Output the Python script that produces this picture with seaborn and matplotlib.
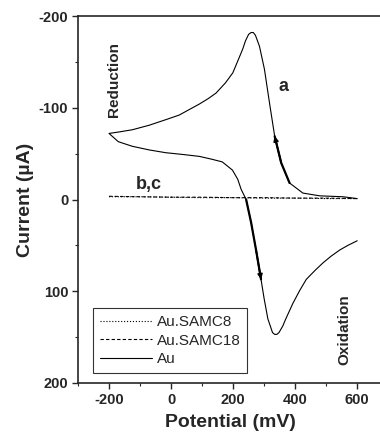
import numpy as np
import pandas as pd
import matplotlib
matplotlib.use("Agg")
import matplotlib.pyplot as plt
import seaborn as sns
from matplotlib.ticker import MultipleLocator

# Au electrode: reverse scan 600 -> -200 mV (upper branch), then forward -200 -> 600 mV
au_potential = [600, 554, 479, 425, 382, 355, 334, 317, 301, 285, 272, 265, 258, 250, 240, 231,
                220, 199, 175, 145, 120, 91, 26, -17, -70, -125, -170, -200,
                -170, -125, -70, -17, 40, 91, 130, 165, 198, 215, 226, 242, 258,
                274, 290, 300, 312, 327, 334, 341, 348, 360, 370, 393, 415, 436, 465, 490,
                515, 544, 570, 600]
au_current = [-1, -3, -4, -7, -18, -40, -69, -106, -142, -167, -179, -182, -182, -180, -173, -164,
              -155, -138, -127, -116, -110, -104, -92, -87, -81, -76, -73.5, -72,
              -63, -58, -54, -51, -49, -47, -44, -41, -32, -22, -11, 0, 25,
              55, 87, 108, 130, 145, 147, 147, 145, 138, 130, 113, 99, 87, 77, 69,
              62, 55, 50, 45]

# SAM modified electrodes (b, c): nearly flat
sam_potential = [-200, -100, 0, 100, 200, 300, 400, 500, 600]
samc8_current = [-3, -3, -2.5, -2, -2, -1.5, -1.5, -1, -1]
samc18_current = [-3.5, -3, -2.5, -2.5, -2, -2, -1.5, -1.5, -1]

sns.set_style("ticks")
plt.rcParams["font.family"] = ["Liberation Sans", "DejaVu Sans"]
plt.rcParams["axes.unicode_minus"] = False
plt.rcParams["xtick.direction"] = "out"
plt.rcParams["ytick.direction"] = "out"

fig = plt.figure(figsize=(3.8, 4.37), dpi=100)
ax = fig.add_axes([78 / 380, 54 / 437, 304 / 380, 367 / 437])

sns.lineplot(x=sam_potential, y=samc8_current, ax=ax, color="black", lw=0.8,
             linestyle=":", label="Au.SAMC8")
sns.lineplot(x=sam_potential, y=samc18_current, ax=ax, color="black", lw=0.8,
             label="Au.SAMC18")
ax.lines[-1].set_linestyle((0, (3, 2)))
sns.lineplot(x=au_potential, y=au_current, ax=ax, color="black", lw=0.8,
             sort=False, estimator=None, label="Au")

# scan direction: thicker segment with arrowhead
i0, i1 = au_potential.index(382), au_potential.index(334)
ax.plot(au_potential[i0:i1 + 1], au_current[i0:i1 + 1], color="black", lw=1.6)
ax.annotate("", xy=(au_potential[i1], au_current[i1]),
            xytext=(au_potential[i1 - 1], au_current[i1 - 1]),
            arrowprops=dict(arrowstyle="-|>", color="black", lw=1.2, mutation_scale=7,
                            shrinkA=0, shrinkB=0))
j0, j1 = au_potential.index(242), au_potential.index(290)
ax.plot(au_potential[j0:j1 + 1], au_current[j0:j1 + 1], color="black", lw=1.6)
ax.annotate("", xy=(au_potential[j1], au_current[j1]),
            xytext=(au_potential[j1 - 1], au_current[j1 - 1]),
            arrowprops=dict(arrowstyle="-|>", color="black", lw=1.2, mutation_scale=7,
                            shrinkA=0, shrinkB=0))

ax.set_xlim(-300, 680)
ax.set_ylim(200, -200)
ax.xaxis.set_major_locator(MultipleLocator(200))
ax.xaxis.set_minor_locator(MultipleLocator(100))
ax.yaxis.set_major_locator(MultipleLocator(100))
ax.yaxis.set_minor_locator(MultipleLocator(50))
ax.tick_params(which="major", length=4, width=1, labelsize=10.5, pad=3)
ax.tick_params(which="minor", length=2.5, width=0.8)
for lab in ax.get_xticklabels() + ax.get_yticklabels():
    lab.set_fontweight("bold")
for s in ax.spines.values():
    s.set_linewidth(1.2)
ax.spines["right"].set_visible(False)

ax.set_xlabel("Potential (mV)", fontsize=14, fontweight="bold", labelpad=5)
ax.set_ylabel("Current (µA)", fontsize=14, fontweight="bold", labelpad=3)

ax.text(-185, -131, "Reduction", rotation=90, ha="center", va="center",
        fontsize=11, fontweight="bold")
ax.text(560, 142, "Oxidation", rotation=90, ha="center", va="center",
        fontsize=11, fontweight="bold")
ax.text(363, -123, "a", ha="center", va="center", fontsize=13, fontweight="bold")
ax.text(-71, -16, "b,c", ha="center", va="center", fontsize=13, fontweight="bold")

leg = ax.legend(loc="lower left", bbox_to_anchor=(0.05, 0.027), borderaxespad=0,
                fontsize=11, handlelength=3.4, frameon=True, fancybox=False,
                borderpad=0.45, labelspacing=0.3, handletextpad=0.3)
leg.get_frame().set_edgecolor("black")
leg.get_frame().set_linewidth(0.8)

fig.savefig("out.png", dpi=100)
